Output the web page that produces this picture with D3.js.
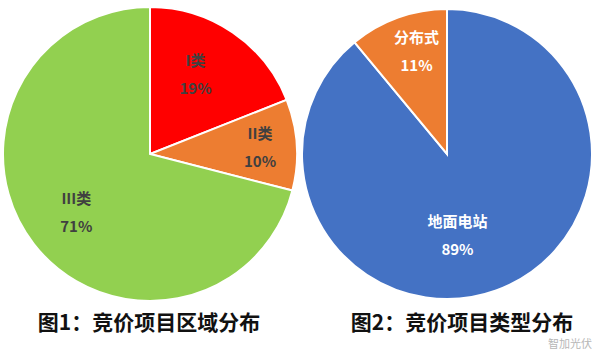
<!DOCTYPE html>
<html>
<head>
<meta charset="utf-8">
<script src="https://cdn.jsdelivr.net/npm/d3@7"></script>
<style>
  body { margin: 0; background: #fff; }
  text { font-family: "Noto Sans CJK SC", "Noto Sans", sans-serif; }
</style>
</head>
<body>
<div id="chart"></div>
<script>
// chart 1: region split
var regionNames = ['I类', 'II类', 'III类'];
var regionShare = [19, 10, 71];
var regionColors = ['#ff0000', '#ed7d31', '#92d050'];

// chart 2: project type split
var typeNames = ['地面电站', '分布式'];
var typeShare = [89, 11];
var typeColors = ['#4472c4', '#ed7d31'];

var titles = ['图1：竞价项目区域分布', '图2：竞价项目类型分布'];

var width = 600, height = 352;

var svg = d3.select('#chart').append('svg')
  .attr('width', width)
  .attr('height', height);

var pie = d3.pie().sort(null).value(function(d){ return d.value; });

function drawPie(cx, cy, r, names, values, colors, textColor, nudge) {
  var data = names.map(function(n, i){ return { name: n, value: values[i], color: colors[i] }; });
  var arc = d3.arc().innerRadius(0).outerRadius(r);
  var labelArc = d3.arc().innerRadius(r * 0.6).outerRadius(r * 0.6);

  var g = svg.append('g').attr('transform', 'translate(' + cx + ',' + cy + ')');

  g.selectAll('path')
    .data(pie(data))
    .enter()
    .append('path')
    .attr('d', arc)
    .attr('fill', function(d){ return d.data.color; })
    .attr('stroke', '#fff')
    .attr('stroke-width', 2);

  var lab = g.selectAll('.lab')
    .data(pie(data))
    .enter()
    .append('g')
    .attr('class', 'lab')
    .attr('transform', function(d, i){
      var c = labelArc.centroid(d);
      return 'translate(' + (c[0] + nudge[i][0]) + ',' + (c[1] + nudge[i][1]) + ')';
    });

  lab.append('text')
    .attr('text-anchor', 'middle')
    .attr('y', -9)
    .attr('font-size', 15)
    .attr('font-weight', 'bold')
    .attr('fill', textColor)
    .text(function(d){ return d.data.name; });

  lab.append('text')
    .attr('text-anchor', 'middle')
    .attr('y', 19)
    .attr('font-size', 15)
    .attr('font-weight', 'bold')
    .attr('fill', textColor)
    .text(function(d){ return d3.format('d')(d.data.value) + '%'; });
}

drawPie(150, 154, 147, regionNames, regionShare, regionColors, '#404040',
  [[-4, -6], [22, 0], [-4, 5]]);
drawPie(447, 154, 145, typeNames, typeShare, typeColors, '#ffffff',
  [[-19, 0], [-1, -20]]);

svg.selectAll('.title')
  .data(titles)
  .enter()
  .append('text')
  .attr('class', 'title')
  .attr('x', function(d, i){ return i === 0 ? 149 : 462; })
  .attr('y', 330)
  .attr('text-anchor', 'middle')
  .attr('font-size', 21)
  .attr('font-weight', 'bold')
  .attr('fill', '#111')
  .text(function(d){ return d; });

// faint watermark, kept just under the second title
svg.append('text')
  .attr('x', 592)
  .attr('y', 348)
  .attr('text-anchor', 'end')
  .attr('font-size', 11)
  .attr('fill', '#999')
  .attr('opacity', 0.7)
  .text('智加光伏');
</script>
</body>
</html>
